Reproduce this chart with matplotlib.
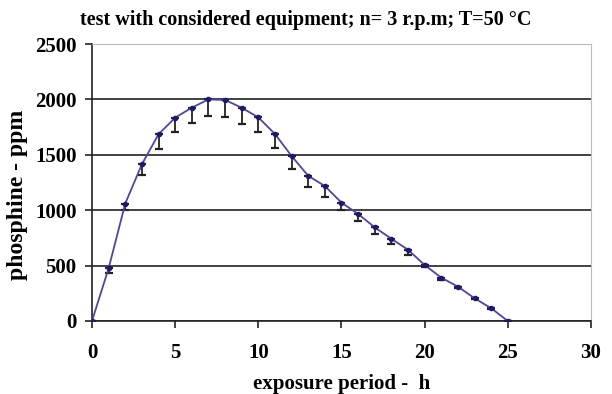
import numpy as np
from matplotlib import pyplot as plt

# exposure time (h) and phosphine concentration (ppm)
hours = [0, 1, 2, 3, 4, 5, 6, 7, 8, 9, 10, 11, 12, 13, 14, 15, 16, 17, 18, 19, 20, 21, 22, 23, 24, 25]
ppm = [0, 475, 1060, 1415, 1685, 1835, 1925, 2000, 1995, 1925, 1838, 1688, 1489, 1310, 1218, 1068,
       966, 845, 742, 643, 505, 391, 310, 205, 115, 0]
# only the lower part of the error bar is visible
err_low = [0, 40, 60, 100, 130, 130, 140, 150, 150, 145, 130, 124, 117, 97, 96, 70,
           63, 60, 46, 45, 20, 20, 15, 10, 10, 0]

plt.rcParams['font.family'] = ['Liberation Serif', 'DejaVu Serif']
plt.rcParams['font.weight'] = 'bold'

fig = plt.figure(figsize=(6.12, 3.94), dpi=100)
ax = fig.add_axes([0.1503, 0.1853, 0.8154, 0.703])

ax.errorbar(hours, ppm, yerr=[err_low, np.zeros(len(err_low))], fmt='none',
            ecolor='#222222', elinewidth=1.3, capsize=3, capthick=1.6, zorder=3)
ax.plot(hours, ppm, color='#4a46a6', lw=1.3, marker='o', ms=3,
        mfc='#1c1a70', mec='#1c1a70', zorder=4)

ax.set_xlim(0, 30)
ax.set_ylim(0, 2500)
ax.set_xticks(range(0, 31, 5))
ax.set_yticks(range(0, 2501, 500))
ax.yaxis.grid(True, color='#333333', lw=1.3)
ax.set_axisbelow(True)
for s in ['top', 'right']:
    ax.spines[s].set_color('#bbbbbb')
for s in ['left', 'bottom']:
    ax.spines[s].set_color('#222222')
    ax.spines[s].set_linewidth(1.2)
ax.tick_params(direction='out', length=5, width=1.2, color='#222222', labelsize=15)
ax.tick_params(axis='x', pad=11)
ax.tick_params(axis='y', pad=6)
for lab in ax.get_xticklabels() + ax.get_yticklabels():
    lab.set_fontweight('bold')

ax.set_title('test with considered equipment; n= 3 r.p.m; T=50 \u00b0C',
             fontsize=14.5, fontweight='bold', pad=14, x=0.428)
ax.set_xlabel('exposure period -  h', fontsize=15, fontweight='bold', labelpad=8)
ax.set_ylabel('phosphine - ppm', fontsize=17, fontweight='bold')
ax.yaxis.set_label_coords(-0.128, 0.455)

fig.savefig('out.png', dpi=100)
